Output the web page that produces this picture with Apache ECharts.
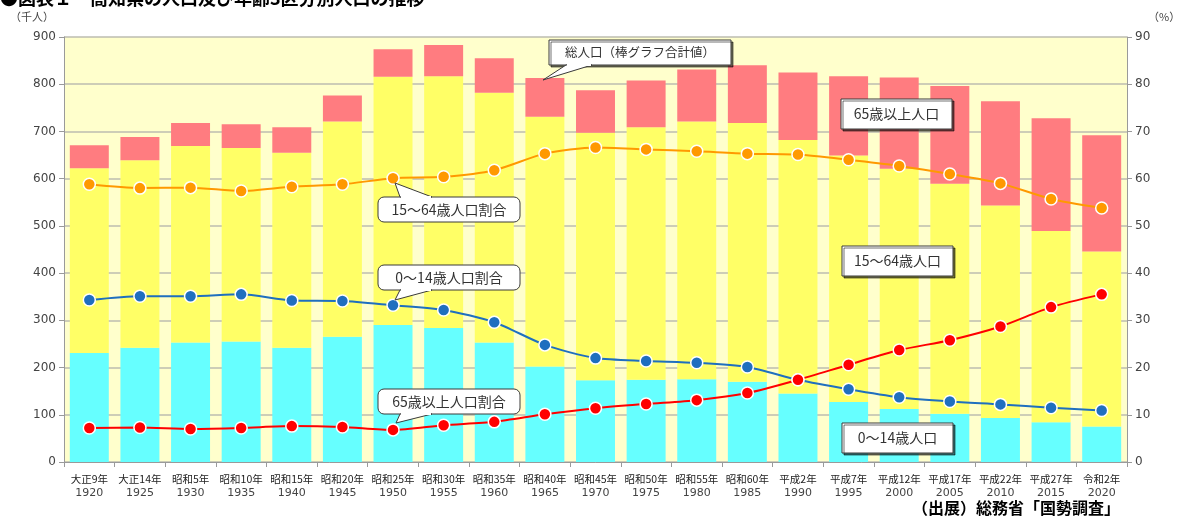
<!DOCTYPE html>
<html><head><meta charset="utf-8">
<script src="https://cdn.jsdelivr.net/npm/echarts@6/dist/echarts.min.js"></script>
<style>html,body{margin:0;padding:0;background:#fff}#c{width:1188px;height:520px}</style>
</head><body><div id="c"></div>
<script>
const eraLabels = ['大正9年','大正14年','昭和5年','昭和10年','昭和15年','昭和20年','昭和25年','昭和30年','昭和35年','昭和40年','昭和45年','昭和50年','昭和55年','昭和60年','平成2年','平成7年','平成12年','平成17年','平成22年','平成27年','令和2年'];
const years = ['1920','1925','1930','1935','1940','1945','1950','1955','1960','1965','1970','1975','1980','1985','1990','1995','2000','2005','2010','2015','2020'];
// population (thousand persons)
const pop0to14 = [231,242,253,255,242,265,290,284,253,202,173,174,175,170,145,127,112,102,93,84,75];
const pop15to64 = [391,397,416,410,413,456,526,533,529,529,524,535,546,548,537,522,509,487,450,405,371];
const pop65over = [49,49,49,50,54,55,58,66,73,82,90,99,110,122,143,168,193,207,221,239,246];
// ratios (%)
const pct15to64 = [58.8,58.0,58.1,57.4,58.3,58.8,60.1,60.4,61.8,65.3,66.6,66.2,65.8,65.3,65.1,64.0,62.7,61.0,59.0,55.7,53.8];
const pct0to14 = [34.3,35.1,35.1,35.5,34.2,34.1,33.2,32.2,29.6,24.8,22.0,21.4,21.0,20.1,17.4,15.4,13.7,12.8,12.2,11.5,10.9];
const pct65over = [7.2,7.3,7.0,7.2,7.6,7.4,6.8,7.8,8.5,10.1,11.4,12.3,13.1,14.6,17.4,20.6,23.7,25.8,28.7,32.8,35.5];
const leftTicks = [0,900,100];
const rightTicks = [0,90,10];

const FONT = '"Noto Sans CJK JP", sans-serif';
const chart = echarts.init(document.getElementById('c'));
const cats = eraLabels.map((e,i)=>e+'\n'+years[i]);

function callout(o){
  const els = [];
  const rect = {type:'rect', shape:{x:o.x,y:o.y,width:o.w,height:o.h,r:o.r||0},
    style:{fill:'#fff',stroke:'#3a3a3a',lineWidth:1,
      shadowColor:o.shadow?'rgba(0,0,0,0.55)':'rgba(0,0,0,0)',shadowOffsetX:o.shadow?2:0,shadowOffsetY:o.shadow?2:0,shadowBlur:0}, z:100};
  els.push(rect);
  if(o.tip){
    const ey = o.side==='top'?o.y:o.y+o.h;
    els.push({type:'polygon', shape:{points:[[o.b1,ey],o.tip,[o.b2,ey]]}, style:{fill:'#fff',stroke:'#3a3a3a',lineWidth:1}, z:101});
    els.push({type:'line', shape:{x1:o.b1+1,y1:ey,x2:o.b2-1,y2:ey}, style:{stroke:'#fff',lineWidth:2}, z:102});
  }
  els.push({type:'text', x:o.x+o.w/2, y:o.y+o.h/2, style:{text:o.text,fill:'#333',font:(o.fs||14)+'px '+FONT,align:'center',verticalAlign:'middle'}, z:103});
  return els;
}

const graphics = [].concat(
  [{type:'text', left:0, top:-11, style:{text:'●図表１　高知県の人口及び年齢3区分別人口の推移', fill:'#000', font:'bold 18px '+FONT}},
   {type:'text', left:10, top:11, style:{text:'（千人）', fill:'#444', font:'11px '+FONT}},
   {type:'text', left:1148, top:11, style:{text:'（%）', fill:'#444', font:'11px '+FONT}},
   {type:'text', left:912, top:500, style:{text:'（出展）総務省「国勢調査」', fill:'#000', font:'bold 16px '+FONT}}],
  callout({x:549,y:40,w:182,h:25,text:'総人口（棒グラフ合計値）',fs:12.5,shadow:true,tip:[543,80],b1:566,b2:592,side:'bottom'}),
  callout({x:378,y:197,w:142,h:25,r:6,text:'15～64歳人口割合',tip:[395,183],b1:400,b2:432,side:'top'}),
  callout({x:378,y:265,w:142,h:25,r:6,text:'0～14歳人口割合',tip:[395,300],b1:400,b2:432,side:'bottom'}),
  callout({x:378,y:389,w:142,h:25,r:6,text:'65歳以上人口割合',tip:[396,423],b1:400,b2:432,side:'bottom'}),
  callout({x:841,y:99,w:111,h:30,text:'65歳以上人口',shadow:true}),
  callout({x:842,y:246,w:111,h:30,text:'15～64歳人口',shadow:true}),
  callout({x:842,y:423,w:111,h:30,text:'0～14歳人口',shadow:true})
);

const lineSeries = (name, data, color) => ({
  name, type:'line', yAxisIndex:1, data, smooth:0.25, symbol:'circle', symbolSize:12,
  lineStyle:{color, width:2}, itemStyle:{color, borderColor:'#fff', borderWidth:1.5}, z:10
});

chart.setOption({
  animation:false,
  textStyle:{fontFamily:FONT},
  grid:{left:64,right:61,top:37,bottom:58,show:true,backgroundColor:'#FFFFCC',borderWidth:0},
  xAxis:{type:'category',data:cats,boundaryGap:true,
    axisLine:{lineStyle:{color:'#9a9a9a'}},axisTick:{show:true,length:5,lineStyle:{color:'#9a9a9a'}},
    axisLabel:{margin:10,interval:0,formatter:v=>{const p=v.split('\n');return '{a|'+p[0]+'}\n{b|'+p[1]+'}';},
      rich:{a:{fontSize:10.5,color:'#222',lineHeight:14,fontFamily:FONT},b:{fontSize:11,color:'#444',lineHeight:14,fontFamily:'"DejaVu Sans", sans-serif'}}}},
  yAxis:[
    {type:'value',min:leftTicks[0],max:leftTicks[1],interval:leftTicks[2],
      axisLine:{show:true,lineStyle:{color:'#9a9a9a'}},axisTick:{show:true,length:5,lineStyle:{color:'#9a9a9a'}},
      axisLabel:{color:'#444',fontSize:12,margin:8,fontFamily:'"DejaVu Sans", sans-serif'},
      splitLine:{lineStyle:{color:'#bdbdb0',width:1.5}}},
    {type:'value',min:rightTicks[0],max:rightTicks[1],interval:rightTicks[2],position:'right',
      axisLine:{show:true,lineStyle:{color:'#9a9a9a'}},axisTick:{show:true,length:5,lineStyle:{color:'#9a9a9a'}},
      axisLabel:{color:'#444',fontSize:12,margin:8,fontFamily:'"DejaVu Sans", sans-serif'},
      splitLine:{show:false}}
  ],
  graphic:graphics,
  series:[
    {name:'0～14歳人口',type:'bar',stack:'pop',data:pop0to14,barWidth:'77%',itemStyle:{color:'#66FFFF'}},
    {name:'15～64歳人口',type:'bar',stack:'pop',data:pop15to64,barWidth:'77%',itemStyle:{color:'#FFFF66'}},
    {name:'65歳以上人口',type:'bar',stack:'pop',data:pop65over,barWidth:'77%',itemStyle:{color:'#FF7C80'}},
    lineSeries('15～64歳人口割合',pct15to64,'#FF9900'),
    lineSeries('0～14歳人口割合',pct0to14,'#1F6FBF'),
    lineSeries('65歳以上人口割合',pct65over,'#FF0000')
  ]
});
</script></body></html>
